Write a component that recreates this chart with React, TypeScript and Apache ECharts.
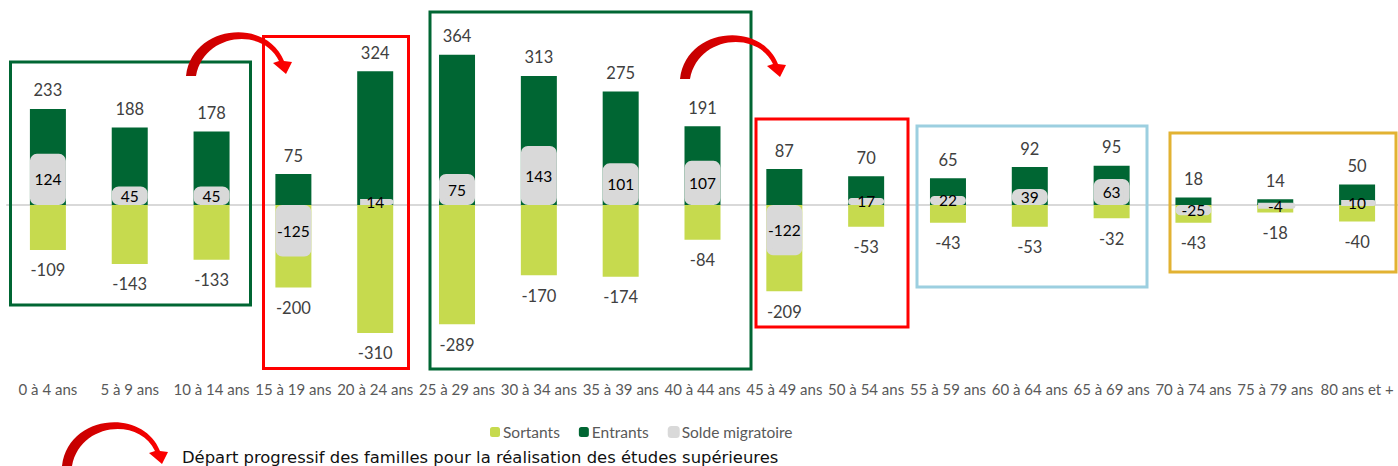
import React, { useEffect, useRef } from "react";
import * as echarts from "echarts";

const categories = [
  "0 à 4 ans", "5 à 9 ans", "10 à 14 ans", "15 à 19 ans", "20 à 24 ans",
  "25 à 29 ans", "30 à 34 ans", "35 à 39 ans", "40 à 44 ans", "45 à 49 ans",
  "50 à 54 ans", "55 à 59 ans", "60 à 64 ans", "65 à 69 ans", "70 à 74 ans",
  "75 à 79 ans", "80 ans et +",
];
const sortants = [-109, -143, -133, -200, -310, -289, -170, -174, -84, -209, -53, -43, -53, -32, -43, -18, -40];
const entrants = [233, 188, 178, 75, 324, 364, 313, 275, 191, 87, 70, 65, 92, 95, 18, 14, 50];
const solde = [124, 45, 45, -125, 14, 75, 143, 101, 107, -122, 17, 22, 39, 63, -25, -4, 10];

const legendNames = ["Sortants", "Entrants", "Solde migratoire"];
const noteText = "Départ progressif des familles pour la réalisation des études supérieures";

// Annotation frames (decorative shapes of the original figure)
const frames = [
  { x: 10.5, y: 62, w: 240, h: 243, color: "#006633" },
  { x: 263.5, y: 36.5, w: 145, h: 332, color: "#ff0000" },
  { x: 430, y: 12, w: 321, h: 357, color: "#006633" },
  { x: 756, y: 119, w: 152, h: 208, color: "#ff0000" },
  { x: 917, y: 126, w: 230, h: 161, color: "#9ccfe0" },
  { x: 1170, y: 133, w: 226, h: 139, color: "#e2b232" },
];
const arrows = [
  { x: 186, y: 33 },
  { x: 680, y: 36 },
  { x: 62, y: 423 },
];

const ARROW_D =
  "M 0 43 C 6 -8, 80 -16, 98 28 L 106 29 L 100 41 L 87 30 L 93 28 C 77 -6, 18 0, 10 43 Z";

echarts.graphic.registerShape("curvedArrow", echarts.graphic.extendPath(ARROW_D, {}) as any);

export default function App() {
  const ref = useRef<HTMLDivElement>(null);
  useEffect(() => {
    if (!ref.current) return;
    const chart = echarts.init(ref.current, null, { renderer: "svg" });
    const valueLabel = { fontSize: 16.5, color: "#404040", fontFamily: "Lato" };
    const option: any = {
      animation: false,
      textStyle: { fontFamily: "Lato" },
      grid: { left: 7, top: 40, width: 1394, height: 330, containLabel: false },
      legend: {
        data: legendNames,
        left: 485,
        top: 419,
        itemWidth: 10,
        itemHeight: 10,
        itemGap: 19,
        textStyle: { fontSize: 15.5, color: "#595959", fontFamily: "Lato", padding: [0, 0, 0, -2] },
      },
      xAxis: [
        {
          type: "category",
          data: categories,
          position: "bottom",
          axisLine: { show: false, onZero: false },
          axisTick: { show: false },
          axisLabel: {
            interval: 0,
            margin: 11,
            fontSize: 15,
            color: "#595959",
            fontFamily: "Lato",
          },
        },
        {
          type: "category",
          data: categories,
          position: "bottom",
          axisLine: { show: true, onZero: true, lineStyle: { color: "#d9d9d9", width: 2 } },
          axisTick: { show: false },
          axisLabel: { show: false },
        },
      ],
      yAxis: {
        type: "value",
        min: -400,
        max: 400,
        interval: 400,
        axisLine: { show: false },
        axisTick: { show: false },
        axisLabel: { show: false },
        splitLine: { show: false },
      },
      series: [
        {
          name: "Sortants",
          type: "bar",
          data: sortants,
          barWidth: 36,
          barGap: "-100%",
          itemStyle: { color: "#c6da4e" },
          label: { show: true, position: "bottom", distance: 12, ...valueLabel },
        },
        {
          name: "Entrants",
          type: "bar",
          data: entrants,
          barWidth: 36,
          barGap: "-100%",
          itemStyle: { color: "#006633" },
          label: { show: true, position: "top", distance: 10, ...valueLabel },
        },
        {
          name: "Solde migratoire",
          type: "bar",
          data: solde,
          barWidth: 36,
          barGap: "-100%",
          itemStyle: {
            color: "#d9d9d9",
            borderColor: "#d9d9d9",
            borderWidth: 6,
            borderRadius: 4,
            borderJoin: "round",
          },
          label: {
            show: true,
            position: "inside",
            fontSize: 15.5,
            color: "#000000",
            fontFamily: "Lato",
          },
        },
      ],
      graphic: [
        ...frames.map((f) => ({
          type: "rect",
          shape: { x: f.x, y: f.y, width: f.w, height: f.h },
          style: { fill: "none", stroke: f.color, lineWidth: 3 },
          z: 10,
          silent: true,
        })),
        ...arrows.map((a) => ({
          type: "curvedArrow",
          x: a.x,
          y: a.y,
          style: {
            fill: new echarts.graphic.LinearGradient(0, 0, 1, 0, [
              { offset: 0, color: "#c00000" },
              { offset: 1, color: "#ff0000" },
            ]),
          },
          z: 11,
          silent: true,
        })),
        {
          type: "text",
          x: 182,
          y: 457,
          style: {
            text: noteText,
            fontFamily: "DejaVu Sans",
            fontSize: 16.4,
            fontWeight: "normal",
            fill: "#111111",
            verticalAlign: "middle",
          },
          z: 11,
        },
      ],
    };
    chart.setOption(option);
    return () => chart.dispose();
  }, []);
  return (
    <div
      ref={ref}
      style={{ position: "absolute", left: 0, top: 0, width: 1398, height: 466, overflow: "hidden" }}
    />
  );
}
